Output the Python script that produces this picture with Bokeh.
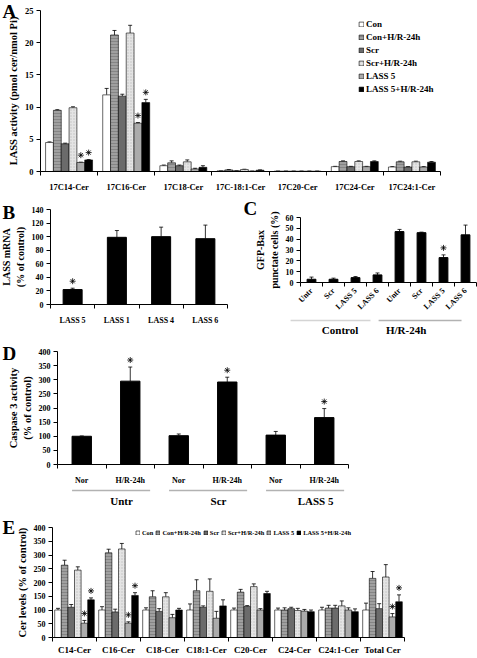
import math
from bokeh.plotting import figure
from bokeh.models import (Range1d, FixedTicker, Whisker, TeeHead, Label,
                          PolyAnnotation, ColumnDataSource)
from bokeh.layouts import column, row
from bokeh.embed import file_html
from bokeh.resources import INLINE

SERIF = "Liberation Serif"

# ---------------- Panel A data ----------------
a_cats = ["17C14-Cer", "17C16-Cer", "17C18-Cer", "17C-18:1-Cer", "17C20-Cer", "17C24-Cer", "17C24:1-Cer"]
a_series = ["Con", "Con+H/R-24h", "Scr", "Scr+H/R-24h", "LASS 5", "LASS 5+H/R-24h"]
a_con = [4.5, 11.9, 0.9, 0.1, 0.05, 0.75, 0.7]
a_con_hr = [9.5, 21.2, 1.35, 0.25, 0.05, 1.55, 1.5]
a_scr = [4.3, 11.7, 0.9, 0.1, 0.05, 0.75, 0.7]
a_scr_hr = [9.9, 21.5, 1.5, 0.3, 0.05, 1.55, 1.5]
a_lass5 = [1.4, 7.5, 0.4, 0.05, 0.05, 0.75, 0.7]
a_lass5_hr = [1.8, 10.7, 0.65, 0.2, 0.05, 1.55, 1.45]
a_con_err = [0.1, 1.0, 0.1, 0.02, 0.02, 0.05, 0.05]
a_con_hr_err = [0.1, 0.7, 0.3, 0.05, 0.02, 0.1, 0.1]
a_scr_err = [0.1, 0.3, 0.1, 0.02, 0.02, 0.05, 0.05]
a_scr_hr_err = [0.15, 1.2, 0.3, 0.05, 0.02, 0.1, 0.1]
a_lass5_err = [0.05, 0.1, 0.1, 0.02, 0.02, 0.05, 0.05]
a_lass5_hr_err = [0.05, 0.5, 0.25, 0.05, 0.02, 0.1, 0.1]
a_stars = [(0, 4), (0, 5), (1, 4), (1, 5)]
a_yticks = [0, 5, 10, 15, 20, 25]

# ---------------- Panel B data ----------------
b_cats = ["LASS 5", "LASS 1", "LASS 4", "LASS 6"]
b_vals = [22, 99, 100, 97]
b_err = [2, 10, 14, 20]
b_stars = [0]
b_yticks = [0, 20, 40, 60, 80, 100, 120, 140]

# ---------------- Panel C data ----------------
c_cats = ["Untr", "Scr", "LASS 5", "LASS 6", "Untr", "Scr", "LASS 5", "LASS 6"]
c_vals = [3, 3, 4.5, 7, 47, 46, 23, 44]
c_err = [2, 1, 1, 1.8, 2, 0.5, 2.5, 9]
c_stars = [6]
c_groups = ["Control", "H/R-24h"]
c_yticks = [0, 10, 20, 30, 40, 50, 60]

# ---------------- Panel D data ----------------
d_cats = ["Nor", "H/R-24h", "Nor", "H/R-24h", "Nor", "H/R-24h"]
d_vals = [100, 295, 102, 292, 104, 166]
d_err = [1, 50, 6, 17, 13, 32]
d_stars = [1, 3, 5]
d_groups = ["Untr", "Scr", "LASS 5"]
d_yticks = [0, 50, 100, 150, 200, 250, 300, 350, 400]

# ---------------- Panel E data ----------------
e_cats = ["C14-Cer", "C16-Cer", "C18-Cer", "C18:1-Cer", "C20-Cer", "C24-Cer", "C24:1-Cer", "Total Cer"]
e_con = [100, 100, 100, 100, 100, 100, 100, 100]
e_con_hr = [263, 308, 148, 170, 165, 100, 107, 215]
e_scr = [110, 93, 95, 110, 113, 105, 107, 105]
e_scr_hr = [245, 322, 148, 168, 185, 98, 115, 220]
e_lass5 = [52, 52, 72, 70, 100, 96, 100, 75]
e_lass5_hr = [137, 153, 100, 115, 160, 94, 94, 130]
e_con_err = [6, 12, 8, 22, 7, 7, 10, 25]
e_con_hr_err = [18, 13, 22, 40, 10, 8, 10, 25]
e_scr_err = [10, 10, 10, 5, 3, 5, 10, 18]
e_scr_hr_err = [12, 20, 15, 45, 10, 8, 18, 45]
e_lass5_err = [10, 5, 12, 25, 5, 6, 8, 12]
e_lass5_hr_err = [7, 10, 6, 22, 8, 6, 10, 25]
e_stars = [(0, 4), (0, 5), (1, 4), (1, 5), (7, 4), (7, 5)]
e_yticks = [0, 50, 100, 150, 200, 250, 300, 350, 400]

# ---------------- styles ----------------
FILLS = ["#ffffff", "#a0a0a0", "#6b6b6b", "#e4e4e4", "#ababab", "#000000"]
HATCH = [None, "-", None, ".", None, None]
HATCH_COL = ["black", "#707070", "black", "#a0a0a0", "black", "black"]


class Panel:
    """A figure whose frame fills the whole figure; axes sit at fixed data locations."""

    def __init__(self, box, data_box, n, ymax):
        x0, y0, x1, y1 = box
        self.fx0, self.fy0 = x0, y0
        self.W = x1 - x0
        self.H = y1 - y0
        L = data_box[0] - x0
        R = data_box[2] - x0
        T = data_box[1] - y0
        B = data_box[3] - y0
        ux = (R - L) / n
        self.uy = (B - T) / ymax
        xr = Range1d(-0.5 - L / ux, n - 0.5 + (self.W - R) / ux)
        yr = Range1d(-(self.H - B) / self.uy, ymax + T / self.uy)
        p = figure(width=self.W, height=self.H, x_range=xr, y_range=yr,
                   output_backend="svg", toolbar_location=None, min_border=0)
        p.xgrid.visible = False
        p.ygrid.visible = False
        p.outline_line_color = None
        p.background_fill_color = "white"
        p.border_fill_color = "white"
        p.xaxis.fixed_location = 0
        p.yaxis.fixed_location = -0.5
        p.xaxis.bounds = (-0.5, n - 0.5)
        p.yaxis.bounds = (0, ymax)
        self.p = p

    def sx(self, rx):
        return rx - self.fx0

    def sy(self, ry):
        return self.H - (ry - self.fy0)


def style_axes(p, labels, xfs, yticks, yfs, ylabel, ylfs, xstand=6):
    n = len(labels)
    p.xaxis.ticker = FixedTicker(ticks=list(range(n)), minor_ticks=[i - 0.5 for i in range(n + 1)])
    p.xaxis.major_label_overrides = {i: lab for i, lab in enumerate(labels)}
    p.xaxis.major_tick_in = 0
    p.xaxis.major_tick_out = 0
    p.xaxis.minor_tick_in = 0
    p.xaxis.minor_tick_out = 4
    p.xaxis.minor_tick_line_color = "black"
    p.xaxis.axis_line_color = "black"
    p.xaxis.major_label_text_font = SERIF
    p.xaxis.major_label_text_font_style = "bold"
    p.xaxis.major_label_text_font_size = f"{xfs}px"
    p.xaxis.major_label_text_color = "black"
    p.xaxis.major_label_standoff = xstand
    p.yaxis.ticker = FixedTicker(ticks=yticks)
    p.yaxis.minor_tick_line_color = None
    p.yaxis.major_tick_in = 0
    p.yaxis.major_tick_out = 4
    p.yaxis.axis_line_color = "black"
    p.yaxis.major_label_text_font = SERIF
    p.yaxis.major_label_text_font_style = "bold"
    p.yaxis.major_label_text_font_size = f"{yfs}px"
    p.yaxis.major_label_text_color = "black"
    p.yaxis.major_label_standoff = 3
    p.yaxis.axis_label = ylabel
    p.yaxis.axis_label_text_font = SERIF
    p.yaxis.axis_label_text_font_style = "bold"
    p.yaxis.axis_label_text_font_size = f"{ylfs}px"
    p.yaxis.axis_label_text_color = "black"
    p.yaxis.axis_label_standoff = 3


def star(pn, xs, ys):
    pad = 7 / pn.uy
    pn.p.scatter(x=xs, y=[y + pad for y in ys], marker="asterisk", size=6,
                 line_color="black", line_width=0.8)


def whisk(p, src):
    p.add_layout(Whisker(source=src, base="x", lower="top", upper="upper",
                         upper_head=TeeHead(size=4, line_width=0.8, line_color="black"),
                         lower_head=None, line_width=0.8, line_color="black"))


def grouped(pn, vals_list, errs_list, names, width, stars):
    p = pn.p
    n = len(vals_list[0])
    tops = {}
    for j, (vals, errs) in enumerate(zip(vals_list, errs_list)):
        off = (j - 2.5) * width
        xs = [i + off for i in range(n)]
        src = ColumnDataSource(dict(x=xs, top=vals, upper=[v + e for v, e in zip(vals, errs)]))
        kw = {}
        if HATCH[j]:
            kw = dict(hatch_pattern=HATCH[j], hatch_color=HATCH_COL[j], hatch_scale=3, hatch_alpha=0.55)
        p.vbar(x="x", top="top", width=width, source=src, fill_color=FILLS[j],
               line_color="black", line_width=0.6, legend_label=names[j], **kw)
        whisk(p, src)
        for i in range(n):
            tops[(i, j)] = (i + off, vals[i] + errs[i])
    star(pn, [tops[k][0] for k in stars], [tops[k][1] for k in stars])


def simple(pn, vals, errs, width, stars):
    p = pn.p
    xs = list(range(len(vals)))
    src = ColumnDataSource(dict(x=xs, top=vals, upper=[v + e for v, e in zip(vals, errs)]))
    p.vbar(x="x", top="top", width=width, source=src, fill_color="black", line_color="black")
    whisk(p, src)
    star(pn, [xs[i] for i in stars], [vals[i] + errs[i] for i in stars])


def letter(pn, txt, rx, ry):
    pn.p.add_layout(Label(x=pn.sx(rx), y=pn.sy(ry), x_units="screen", y_units="screen", text=txt,
                          text_font=SERIF, text_font_style="bold", text_font_size="19px",
                          text_align="left", text_baseline="top", text_color="black"))


def group_line(pn, x0, x1, ry, color):
    s = pn.sy(ry)
    pn.p.add_layout(PolyAnnotation(xs=[x0, x1, x1, x0], ys=[s, s, s, s], xs_units="data",
                                   ys_units="screen", line_color=color, line_width=1.3,
                                   fill_alpha=0))


def group_text(pn, txt, x, ry, size=11):
    pn.p.add_layout(Label(x=x, y=pn.sy(ry), x_units="data", y_units="screen", text=txt,
                          text_font=SERIF, text_font_style="bold", text_font_size=f"{size}px",
                          text_align="center", text_baseline="top", text_color="black"))


def style_legend(p, loc, horizontal=False, fs=9):
    lg = p.legend[0]
    lg.location = loc
    lg.border_line_color = None
    lg.background_fill_alpha = 0
    lg.label_text_font = SERIF
    lg.label_text_font_style = "bold"
    lg.label_text_font_size = f"{fs}px"
    lg.label_text_color = "black"
    lg.label_width = 0
    lg.padding = 0
    lg.margin = 0
    if horizontal:
        lg.orientation = "horizontal"
        lg.glyph_width = 5
        lg.glyph_height = 5
        lg.label_standoff = 2
        lg.spacing = 2
        lg.label_height = 9
    else:
        lg.glyph_width = 6
        lg.glyph_height = 6
        lg.label_standoff = 2
        lg.spacing = 2
        lg.label_height = 11


# ---------------- Panel A ----------------
A = Panel((0, 0, 477, 197), (40, 10, 440, 171), len(a_cats), 25)
grouped(A, [a_con, a_con_hr, a_scr, a_scr_hr, a_lass5, a_lass5_hr],
        [a_con_err, a_con_hr_err, a_scr_err, a_scr_hr_err, a_lass5_err, a_lass5_hr_err],
        a_series, 0.137, a_stars)
style_axes(A.p, a_cats, 8.5, a_yticks, 8.5, "LASS activity (pmol cer/nmol Pi)", 10.5, xstand=6)
style_legend(A.p, (A.sx(358), A.sy(18) - 76))
letter(A, "A", 2, 0)

# ---------------- Panel B ----------------
B = Panel((0, 197, 240, 338), (50, 209, 227, 304), len(b_cats), 140)
simple(B, b_vals, b_err, 0.43, b_stars)
style_axes(B.p, b_cats, 8, b_yticks, 8, "LASS mRNA\n(% of control)", 10, xstand=7)
letter(B, "B", 2, 201)

# ---------------- Panel C ----------------
C = Panel((240, 197, 477, 338), (300, 217, 476, 282), len(c_cats), 60)
simple(C, c_vals, c_err, 0.4, c_stars)
style_axes(C.p, c_cats, 8, c_yticks, 8, "GFP-Bax\npunctate cells (%)", 10, xstand=3)
C.p.xaxis.major_label_orientation = math.pi / 4
group_line(C, -0.95, 2.68, 320, "#707070")
group_line(C, 3.05, 6.82, 320, "black")
group_text(C, c_groups[0], 1.3, 323)
group_text(C, c_groups[1], 4.3, 323)
letter(C, "C", 243, 197)

# ---------------- Panel D ----------------
D = Panel((0, 338, 477, 512), (57, 351, 348, 464), len(d_cats), 400)
simple(D, d_vals, d_err, 0.4, d_stars)
style_axes(D.p, d_cats, 8, d_yticks, 8, "Caspase 3 activity\n(% of control)", 10.5, xstand=7)
for g, name in enumerate(d_groups):
    group_line(D, 2 * g - 0.2, 2 * g + 1.41, 490, "black")
    group_text(D, name, 2 * g + 0.82, 494)
letter(D, "D", 2, 342)

# ---------------- Panel E ----------------
E = Panel((0, 512, 477, 658), (52, 527, 404, 637), len(e_cats), 400)
grouped(E, [e_con, e_con_hr, e_scr, e_scr_hr, e_lass5, e_lass5_hr],
        [e_con_err, e_con_hr_err, e_scr_err, e_scr_hr_err, e_lass5_err, e_lass5_hr_err],
        a_series, 0.15, e_stars)
style_axes(E.p, e_cats, 9, e_yticks, 8, "Cer levels (% of control)", 10.5, xstand=3)
style_legend(E.p, (E.sx(135), E.sy(528) - 9), horizontal=True, fs=6.4)
letter(E, "E", 2, 516)

layout = column(A.p, row(B.p, C.p), D.p, E.p)
open("out.html", "w").write(file_html(layout, INLINE))
